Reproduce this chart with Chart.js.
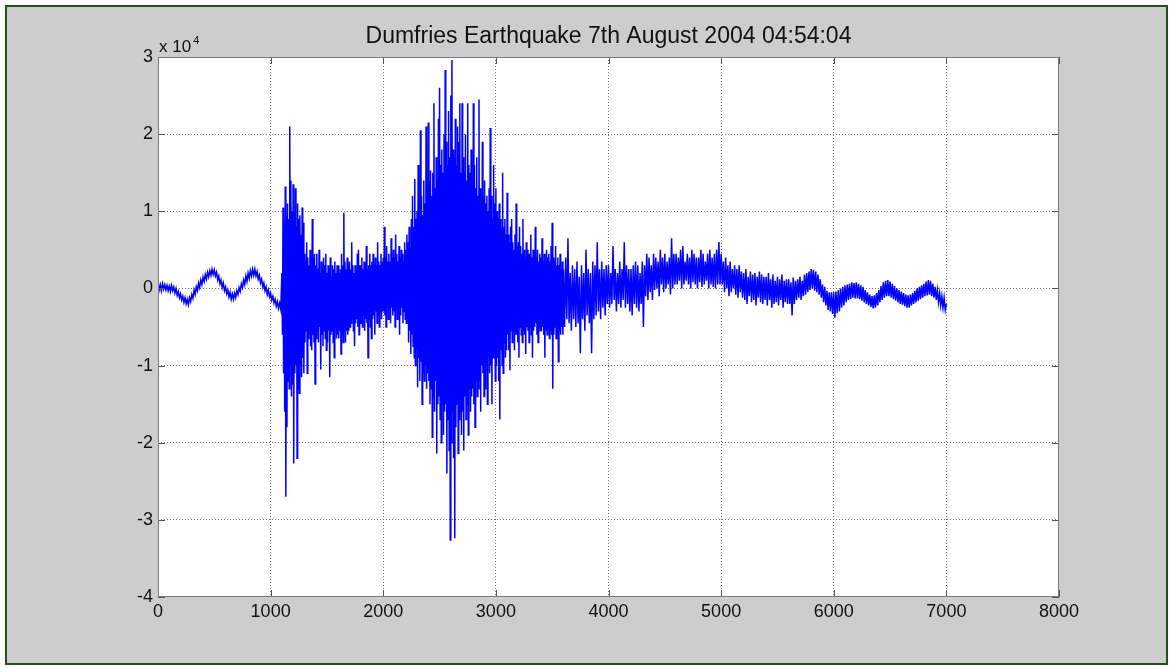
<!DOCTYPE html>
<html>
<head>
<meta charset="utf-8">
<title>Dumfries Earthquake 7th August 2004 04:54:04</title>
<script src="https://cdn.jsdelivr.net/npm/chart.js@4.4.1/dist/chart.umd.min.js"></script>
<style>
  html, body { margin: 0; padding: 0; background: #ffffff; }
  #wrap { width: 1169px; height: 668px; }
  canvas { display: block; }
</style>
</head>
<body>
<div id="wrap"><canvas id="seis" width="1169" height="668"></canvas></div>
<script>
// Seismogram trace, amplitude in units of 10^4 counts.
// Each segment starts at a sample index and advances by a fixed step.
const segmentStart = [0, 1100, 3600];
const segmentStep = [10, 5, 10];

// Pre-event background: long-period drift before the first arrival (samples 0-1090)
const preEvent = [
  0.06, -0.02, 0.05, -0.03, 0.06, -0.01, 0.05, -0.02, 0.04, -0.03,
  0.03, -0.04, 0.04, -0.03, 0.02, -0.06, 0.00, -0.09, -0.04, -0.12,
  -0.07, -0.15, -0.10, -0.18, -0.12, -0.20, -0.14, -0.21, -0.12, -0.17,
  -0.08, -0.13, -0.02, -0.08, 0.02, -0.03, 0.07, 0.01, 0.11, 0.05,
  0.15, 0.09, 0.18, 0.12, 0.21, 0.15, 0.23, 0.17, 0.25, 0.18,
  0.24, 0.16, 0.21, 0.11, 0.16, 0.06, 0.11, 0.01, 0.07, -0.03,
  0.02, -0.07, -0.02, -0.11, -0.05, -0.14, -0.07, -0.14, -0.06, -0.12,
  -0.03, -0.08, 0.01, -0.04, 0.06, 0.01, 0.11, 0.05, 0.16, 0.09,
  0.20, 0.13, 0.23, 0.16, 0.25, 0.17, 0.25, 0.16, 0.22, 0.12,
  0.17, 0.07, 0.12, 0.02, 0.07, -0.03, 0.02, -0.08, -0.02, -0.11,
  -0.06, -0.15, -0.10, -0.19, -0.14, -0.23, -0.17, -0.26, -0.19, -0.27
];

// P onset through the main S-wave burst (samples 1100-3595)
const mainShock = [
  0.20, -0.60, 1.05, -1.10, 0.85, -1.60, 1.32, -2.70, 0.95, -1.80, 1.10, -1.20, 0.90, -1.30, 2.10, -1.00, 1.40, -1.40, 1.00, -1.25,
  1.35, -2.27, 1.00, -1.10, 1.30, -1.00, 0.80, -2.20, 1.10, -1.30, 0.90, -1.36, 0.95, -1.00, 0.70, -1.15, 1.05, -0.90, 0.85, -1.10,
  0.45, -0.70, 0.35, -0.55, 0.60, -1.10, 0.40, -0.65, 0.30, -0.60, 0.50, -0.75, 0.35, -0.80, 0.90, -0.60, 0.40, -0.70, 0.45, -1.24,
  0.30, -0.65, 0.45, -0.55, 0.25, -0.70, 0.50, -0.50, 0.20, -1.05, 0.35, -0.60, 0.25, -0.75, 0.40, -0.55, 0.30, -0.65, 0.45, -0.80,
  0.20, -0.70, 0.30, -0.55, 0.25, -1.15, 0.40, -0.60, 0.15, -0.55, 0.30, -0.70, 0.25, -0.90, 0.35, -0.50, 0.20, -0.65, 0.30, -0.60,
  0.30, -0.65, 0.20, -0.55, 0.25, -0.85, 0.45, -0.60, 0.30, -0.70, 0.98, -0.50, 0.35, -0.70, 0.25, -0.55, 0.40, -0.60, 0.30, -0.55,
  0.35, -0.50, 0.25, -0.45, 0.60, -0.40, 0.30, -0.55, 0.20, -0.75, 0.30, -0.45, 0.25, -0.40, 0.45, -0.50, 0.50, -0.60, 0.30, -0.45,
  0.30, -0.45, 0.40, -0.50, 0.25, -0.35, 0.35, -0.55, 0.30, -0.40, 0.55, -0.45, 0.25, -0.90, 0.30, -0.40, 0.45, -0.50, 0.30, -0.65,
  0.35, -0.40, 0.45, -0.35, 0.30, -0.60, 0.40, -0.30, 0.30, -0.45, 0.60, -0.35, 0.35, -0.50, 0.30, -0.30, 0.45, -0.40, 0.35, -0.30,
  0.40, -0.30, 0.80, -0.35, 0.40, -0.50, 0.55, -0.25, 0.35, -0.40, 0.45, -0.30, 0.35, -0.45, 0.65, -0.25, 0.40, -0.35, 0.50, -0.30,
  0.40, -0.50, 0.70, -0.25, 0.45, -0.40, 0.35, -0.30, 0.55, -0.60, 0.40, -0.35, 0.50, -0.25, 0.45, -0.45, 0.35, -0.30, 0.60, -0.40,
  0.50, -0.45, 0.70, -0.40, 0.60, -0.70, 0.80, -0.55, 0.50, -0.85, 0.90, -0.60, 1.20, -0.75, 0.80, -0.90, 1.42, -1.00, 0.90, -0.80,
  1.00, -1.28, 1.60, -0.90, 1.10, -1.20, 2.05, -0.95, 1.20, -1.50, 0.95, -1.10, 1.40, -1.20, 1.10, -1.00, 2.10, -1.30, 1.30, -1.10,
  2.15, -1.20, 1.40, -1.50, 1.53, -1.30, 1.20, -1.93, 1.50, -1.40, 2.40, -1.60, 1.30, -1.20, 1.70, -2.14, 1.40, -1.50, 2.20, -1.40,
  2.60, -1.70, 1.60, -2.00, 1.80, -1.50, 1.50, -1.90, 2.00, -1.60, 2.83, -1.50, 1.90, -2.40, 1.60, -1.70, 2.30, -2.10, 1.70, -3.26,
  2.50, -2.00, 2.96, -1.60, 1.80, -2.20, 1.70, -3.24, 2.20, -1.80, 1.60, -1.50, 2.10, -2.14, 1.90, -1.70, 2.40, -1.60, 1.50, -1.90,
  2.40, -1.60, 1.70, -2.10, 1.50, -1.40, 2.00, -1.70, 1.40, -1.50, 2.40, -1.90, 1.60, -1.30, 1.50, -1.60, 1.80, -1.40, 1.30, -1.30,
  2.40, -1.50, 1.60, -1.80, 1.30, -1.20, 1.70, -1.40, 1.20, -1.30, 2.45, -1.20, 1.30, -1.60, 1.10, -1.00, 1.90, -1.10, 1.20, -1.40,
  1.40, -1.30, 1.10, -1.00, 1.20, -1.50, 1.00, -0.90, 1.30, -1.10, 2.08, -1.00, 1.20, -1.50, 0.90, -0.90, 1.60, -0.90, 1.10, -1.20,
  1.30, -1.00, 1.00, -0.90, 0.90, -1.20, 1.10, -1.70, 0.90, -0.80, 0.80, -1.00, 1.50, -1.10, 0.80, -0.70, 0.90, -0.90, 0.70, -0.80,
  1.24, -0.60, 0.70, -0.80, 0.60, -1.06, 0.80, -0.55, 0.90, -0.70, 0.60, -0.55, 0.50, -0.80, 0.70, -0.60, 1.10, -0.60, 0.55, -0.70,
  0.60, -0.90, 0.80, -0.50, 0.55, -0.60, 0.45, -0.70, 0.90, -0.55, 0.50, -0.60, 0.40, -0.85, 0.60, -0.50, 0.50, -0.55, 0.45, -0.70,
  0.45, -0.50, 0.70, -0.60, 0.40, -0.90, 0.50, -0.55, 0.35, -0.50, 0.80, -0.45, 0.40, -0.60, 0.50, -0.70, 0.35, -0.50, 0.45, -0.55,
  0.40, -0.55, 0.65, -0.50, 0.35, -0.60, 0.45, -0.90, 0.30, -0.55, 0.50, -0.60, 0.40, -0.50, 0.45, -0.65, 0.35, -0.55, 0.55, -0.60,
  0.85, -1.30, 0.40, -0.60, 0.35, -0.50, 0.55, -0.65, 0.30, -0.50, 0.40, -0.95, 0.30, -0.55, 0.45, -0.60, 0.25, -0.50, 0.35, -0.60
];

// Coda: decaying surface waves and long-period swell (samples 3600-7000)
const coda = [
  0.25, -0.50, 0.40, -0.40, 0.65, -0.45, 0.20, -0.55, 0.30, -0.40, 0.25, -0.50, 0.35, -0.45, 0.15, -0.84, 0.30, -0.40, 0.20, -0.55,
  0.50, -0.35, 0.25, -0.45, 0.20, -0.84, 0.35, -0.40, 0.30, -0.35, 0.60, -0.30, 0.25, -0.40, 0.35, -0.25, 0.25, -0.35, 0.30, -0.20,
  0.30, -0.25, 0.20, -0.20, 0.55, -0.15, 0.25, -0.30, 0.20, -0.20, 0.35, -0.25, 0.25, -0.15, 0.60, -0.25, 0.30, -0.20, 0.25, -0.30,
  0.25, -0.35, 0.30, -0.20, 0.35, -0.25, 0.30, -0.30, 0.20, -0.20, 0.35, -0.50, 0.30, -0.10, 0.45, -0.15, 0.40, -0.05, 0.30, -0.15,
  0.45, -0.02, 0.40, 0.00, 0.35, -0.10, 0.50, 0.05, 0.40, -0.05, 0.45, 0.00, 0.35, 0.05, 0.40, -0.08, 0.65, 0.00, 0.45, 0.05,
  0.45, 0.05, 0.40, 0.10, 0.50, 0.00, 0.55, 0.05, 0.35, 0.10, 0.45, 0.05, 0.40, 0.00, 0.50, 0.08, 0.45, 0.05, 0.40, 0.00,
  0.40, 0.08, 0.50, 0.02, 0.45, 0.05, 0.35, 0.10, 0.45, 0.00, 0.50, 0.05, 0.40, 0.02, 0.45, 0.00, 0.50, 0.05, 0.60, 0.05,
  0.45, 0.05, 0.35, -0.05, 0.40, 0.00, 0.30, -0.10, 0.35, -0.05, 0.25, 0.00, 0.30, -0.08, 0.25, -0.12, 0.30, -0.05, 0.22, -0.12,
  0.20, -0.15, 0.25, -0.20, 0.15, -0.10, 0.22, -0.18, 0.18, -0.15, 0.20, -0.22, 0.15, -0.12, 0.22, -0.18, 0.18, -0.20, 0.15, -0.15,
  0.15, -0.22, 0.20, -0.15, 0.12, -0.25, 0.18, -0.20, 0.10, -0.18, 0.15, -0.22, 0.12, -0.15, 0.18, -0.25, 0.10, -0.18, 0.12, -0.20,
  0.12, -0.20, 0.08, -0.35, 0.14, -0.20, 0.10, -0.15, 0.12, -0.12, 0.15, -0.15, 0.10, -0.10, 0.18, -0.08, 0.20, -0.05, 0.22, -0.02,
  0.25, 0.00, 0.24, -0.03, 0.22, -0.05, 0.18, -0.08, 0.12, -0.12, 0.05, -0.18, 0.02, -0.22, -0.03, -0.28, -0.05, -0.30, -0.05, -0.33,
  -0.05, -0.38, -0.04, -0.32, -0.02, -0.30, 0.00, -0.25, 0.02, -0.22, 0.04, -0.18, 0.05, -0.15, 0.06, -0.14, 0.08, -0.12, 0.07, -0.13,
  0.08, -0.13, 0.06, -0.14, 0.04, -0.16, 0.02, -0.18, -0.02, -0.20, -0.05, -0.22, -0.08, -0.24, -0.10, -0.26, -0.09, -0.25, -0.06, -0.22,
  -0.02, -0.18, 0.03, -0.15, 0.08, -0.12, 0.10, -0.10, 0.11, -0.10, 0.09, -0.12, 0.06, -0.14, 0.03, -0.16, 0.00, -0.18, -0.02, -0.20,
  -0.04, -0.21, -0.06, -0.23, -0.08, -0.25, -0.09, -0.25, -0.08, -0.22, -0.06, -0.20, -0.03, -0.18, 0.00, -0.16, 0.02, -0.14, 0.04, -0.12,
  0.06, -0.10, 0.09, -0.09, 0.11, -0.08, 0.10, -0.10, 0.06, -0.12, 0.02, -0.15, -0.02, -0.18, -0.06, -0.22, -0.10, -0.25, -0.12, -0.28,
  -0.20
];

const segments = [preEvent, mainShock, coda];

// Axis ticks
const xTicks = [0, 1000, 2000, 3000, 4000, 5000, 6000, 7000, 8000];
const yTicks = [-4, -3, -2, -1, 0, 1, 2, 3];

const titleText = 'Dumfries Earthquake 7th August 2004 04:54:04';
const FONT = '"Liberation Sans", Arial, Helvetica, sans-serif';

// Build {x: sample, y: amplitude} points
const trace = [];
segments.forEach((vals, k) => {
  vals.forEach((v, i) => {
    trace.push({ x: segmentStart[k] + i * segmentStep[k], y: v });
  });
});

// Figure frame: grey panel with dark green rule, white axes, title,
// exponent label, box outline and inward tick marks.
const figurePlugin = {
  id: 'figure',
  beforeDraw(chart) {
    const { ctx, chartArea: a } = chart;
    ctx.save();
    ctx.fillStyle = '#ffffff';
    ctx.fillRect(0, 0, chart.width, chart.height);
    ctx.fillStyle = '#cdcdcd';
    ctx.fillRect(6, 6, 1161, 658);
    ctx.strokeStyle = '#24521f';
    ctx.lineWidth = 2;
    ctx.strokeRect(6, 6, 1161, 658);
    ctx.fillStyle = '#ffffff';
    ctx.fillRect(a.left, a.top, a.right - a.left, a.bottom - a.top);
    ctx.restore();
  },
  afterDraw(chart) {
    const { ctx, chartArea: a, scales } = chart;
    ctx.save();
    // inward tick marks
    ctx.strokeStyle = '#555555';
    ctx.lineWidth = 1;
    ctx.beginPath();
    xTicks.forEach(t => {
      const px = Math.round(scales.x.getPixelForValue(t)) + 0.5;
      ctx.moveTo(px, a.bottom); ctx.lineTo(px, a.bottom - 7);
      ctx.moveTo(px, a.top); ctx.lineTo(px, a.top + 7);
    });
    yTicks.forEach(t => {
      const py = Math.round(scales.y.getPixelForValue(t)) + 0.5;
      ctx.moveTo(a.left, py); ctx.lineTo(a.left + 7, py);
      ctx.moveTo(a.right, py); ctx.lineTo(a.right - 7, py);
    });
    ctx.stroke();
    // box
    ctx.strokeStyle = '#7a7a7a';
    ctx.strokeRect(a.left + 0.5, a.top + 0.5, a.right - a.left - 1, a.bottom - a.top - 1);
    // title
    ctx.fillStyle = '#111111';
    ctx.font = '23px ' + FONT;
    ctx.textAlign = 'center';
    ctx.textBaseline = 'middle';
    ctx.fillText(titleText, (a.left + a.right) / 2, 37);
    // exponent label for the y axis
    ctx.textAlign = 'left';
    ctx.textBaseline = 'alphabetic';
    ctx.font = '17px ' + FONT;
    ctx.fillText('x 10', a.left + 1, a.top - 5);
    const w = ctx.measureText('x 10').width;
    ctx.font = '11px ' + FONT;
    ctx.fillText('4', a.left + 3 + w, a.top - 13);
    ctx.restore();
  }
};

const edgeless = (ctx) => (ctx.index === 0 || ctx.index === ctx.chart.scales[ctx.scale.id].ticks.length - 1)
  ? 'rgba(0,0,0,0)' : '#6e6e6e';

new Chart(document.getElementById('seis'), {
  type: 'line',
  data: {
    datasets: [{
      data: trace,
      borderColor: '#0000ff',
      borderWidth: 1.5,
      pointRadius: 0,
      tension: 0,
      fill: false
    }]
  },
  options: {
    responsive: false,
    animation: false,
    devicePixelRatio: 1,
    layout: { padding: { top: 57, right: 110, left: 0, bottom: 0 } },
    plugins: {
      legend: { display: false },
      tooltip: { enabled: false },
      title: { display: false }
    },
    scales: {
      x: {
        type: 'linear',
        min: 0, max: 8000,
        afterFit(scale) { scale.height = 71; },
        afterBuildTicks(scale) { scale.ticks = xTicks.map(v => ({ value: v })); },
        ticks: {
          color: '#111111',
          font: { family: FONT, size: 18 },
          padding: 4,
          maxRotation: 0,
          autoSkip: false,
          callback: v => String(v)
        },
        grid: { color: edgeless, lineWidth: 1, drawTicks: false },
        border: { display: false, dash: [1, 2] }
      },
      y: {
        type: 'linear',
        min: -4, max: 3,
        afterFit(scale) { scale.width = 158; },
        afterBuildTicks(scale) { scale.ticks = yTicks.map(v => ({ value: v })); },
        ticks: {
          color: '#111111',
          font: { family: FONT, size: 18 },
          padding: 5,
          autoSkip: false,
          callback: v => String(v)
        },
        grid: { color: edgeless, lineWidth: 1, drawTicks: false },
        border: { display: false, dash: [1, 2] }
      }
    }
  },
  plugins: [figurePlugin]
});
</script>
</body>
</html>
